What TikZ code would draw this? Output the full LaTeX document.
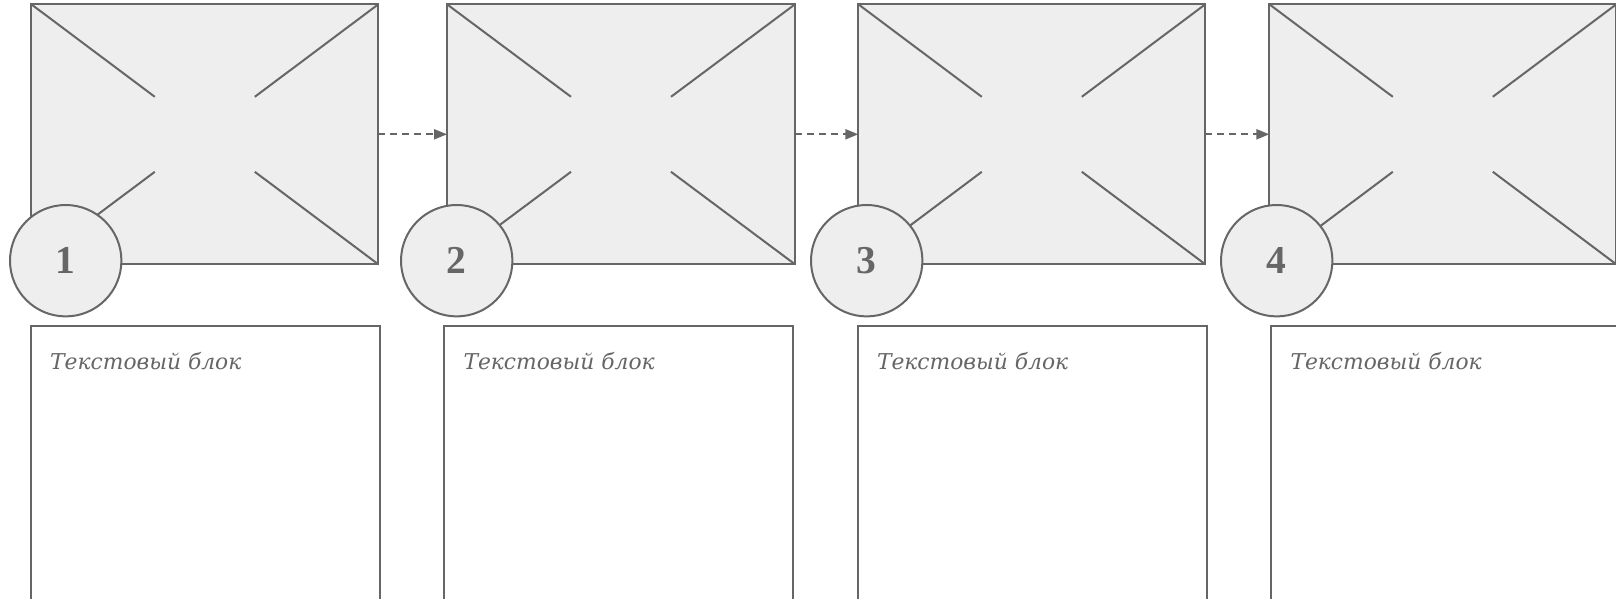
\documentclass[tikz,border=0pt]{standalone}
\usepackage{fontspec}
\setmainfont{DejaVu Serif}
\newfontfamily\numfont{Liberation Serif}
\usetikzlibrary{arrows.meta,calc}
\definecolor{edge}{HTML}{666666}
\definecolor{pale}{HTML}{EEEEEE}
\tikzset{
  imgbox/.style={draw=edge, fill=pale, line width=2pt, rectangle, outer sep=0pt, inner sep=0pt,
    minimum width=347pt, minimum height=260pt, anchor=north west},
  cross/.style={draw=edge, line width=2pt},
  numcirc/.style={draw=edge, fill=pale, line width=2pt, circle, outer sep=0pt, inner sep=0pt,
    minimum size=111.4pt, text=edge, font=\numfont\bfseries\fontsize{39.5}{40}\selectfont},
  txtbox/.style={draw=edge, fill=white, line width=2pt, rectangle, outer sep=0pt, inner sep=0pt,
    minimum width=349pt, minimum height=280pt, anchor=north west},
  txtlabel/.style={anchor=base west, inner sep=0pt, text=edge,
    font=\itshape\fontsize{21.8}{26}\selectfont},
  flow/.style={draw=edge, line width=2pt, dash pattern=on 7pt off 5pt,
    -{Triangle[length=13pt,width=10pt]}},
}
\begin{document}
\begin{tikzpicture}[x=1pt,y=-1pt]
\useasboundingbox (0,0) rectangle (1616,599);
\fill[white] (0,0) rectangle (1616,599);
% image placeholders
\node[imgbox] (i1) at (31.3,4.3) {};
\node[imgbox,minimum width=348pt] (i2) at (447,4.3) {};
\node[imgbox] (i3) at (858.3,4.3) {};
\node[imgbox] (i4) at (1269.3,4.3) {};
\foreach \i in {i1,i2,i3,i4}{
  \draw[cross] (\i.north west) -- ($(\i.center)+(-50,-37.5)$);
  \draw[cross] (\i.north east) -- ($(\i.center)+(50,-37.5)$);
  \draw[cross] (\i.south west) -- ($(\i.center)+(-50,37.5)$);
  \draw[cross] (\i.south east) -- ($(\i.center)+(50,37.5)$);
}
% dashed connectors
\draw[flow] (i1.east) -- (i2.west);
\draw[flow] (i2.east) -- (i3.west);
\draw[flow] (i3.east) -- (i4.west);
% number circles
\node[numcirc] (c1) at (65.7,260.7) {1};
\node[numcirc] (c2) at (456.7,260.7) {2};
\node[numcirc] (c3) at (866.7,260.7) {3};
\node[numcirc] (c4) at (1276.7,260.7) {4};
% text blocks
\node[txtbox] (t1) at (31,326) {};
\node[txtbox] (t2) at (444.3,326) {};
\node[txtbox] (t3) at (857.8,326) {};
\node[txtbox] (t4) at (1271.3,326) {};
\node[txtlabel] (l1) at ($(t1.north west)+(19,43)$) {Текстовый блок};
\node[txtlabel] (l2) at ($(t2.north west)+(19,43)$) {Текстовый блок};
\node[txtlabel] (l3) at ($(t3.north west)+(19,43)$) {Текстовый блок};
\node[txtlabel] (l4) at ($(t4.north west)+(19,43)$) {Текстовый блок};
\end{tikzpicture}
\end{document}
